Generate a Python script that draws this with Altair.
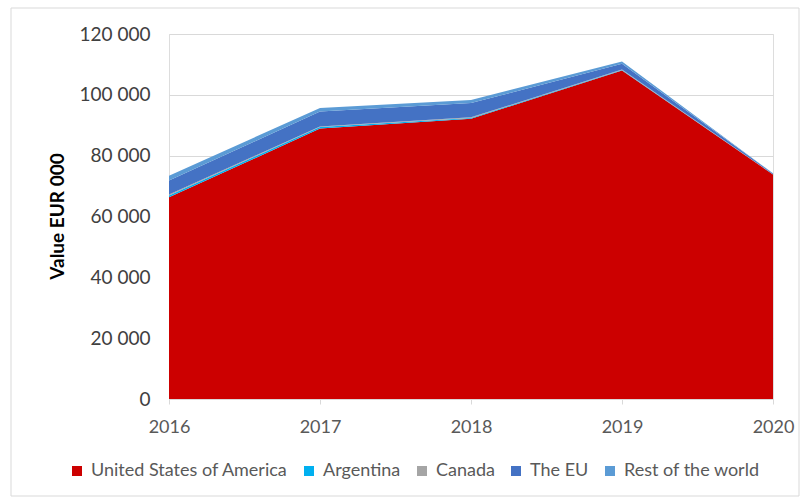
import altair as alt
import pandas as pd

years = [2016, 2017, 2018, 2019, 2020]
series = ["United States of America", "Argentina", "Canada", "The EU", "Rest of the world"]
usa = [66300, 88900, 92100, 108000, 73800]
argentina = [600, 500, 300, 200, 50]
canada = [300, 200, 200, 100, 50]
the_eu = [4600, 4900, 4700, 1900, 200]
rest = [1600, 1200, 1000, 800, 100]
colors = ["#CC0000", "#00B0F0", "#A5A5A5", "#4472C4", "#5B9BD5"]
y_ticks = [0, 20000, 40000, 60000, 80000, 100000, 120000]

values = [usa, argentina, canada, the_eu, rest]
rows = []
for i, (name, vals) in enumerate(zip(series, values)):
    for yr, v in zip(years, vals):
        rows.append({"Year": yr, "Series": name, "Value": v, "order": i})
df = pd.DataFrame(rows)

FONT = "Lato"

area = alt.Chart(df).mark_area(opacity=1, interpolate="linear").encode(
    x=alt.X("Year:Q",
            scale=alt.Scale(domain=[2016, 2020], nice=False, zero=False),
            axis=alt.Axis(values=years, format="d", title=None, grid=False,
                          domain=True, domainColor="#D9D9D9", ticks=True,
                          tickColor="#D9D9D9", tickSize=5, labelFontSize=18,
                          labelColor="#595959", labelPadding=14, labelFont=FONT,
                          labelFlush=False)),
    y=alt.Y("Value:Q", stack="zero",
            scale=alt.Scale(domain=[0, 120000], nice=False),
            axis=alt.Axis(values=y_ticks, title="Value EUR 000",
                          labelExpr="replace(format(datum.value, ','), ',', ' ')",
                          grid=True, gridColor="#D9D9D9", domain=False, ticks=False,
                          labelFontSize=19, labelColor="#404040", labelPadding=19,
                          labelFont=FONT,
                          titleFontSize=19, titleFont=FONT, titleFontWeight="bold",
                          titleColor="#000000", titleAngle=270, titleX=-112,
                          titleY=182, titleAlign="center", titleBaseline="middle")),
    color=alt.Color("Series:N",
                    scale=alt.Scale(domain=series, range=colors),
                    legend=alt.Legend(title=None, orient="none", direction="horizontal",
                                      legendX=-101, legendY=428, columns=5,
                                      symbolType="square", symbolSize=100,
                                      symbolStrokeWidth=0, labelFontSize=18,
                                      labelColor="#595959", labelFont=FONT,
                                      labelLimit=400,
                                      columnPadding=12, symbolOffset=0,
                                      labelOffset=5)),
    order=alt.Order("order:Q", sort="ascending"),
)

border = alt.Chart(pd.DataFrame({"a": [0]})).mark_rect(
    fill=None, stroke="#D9D9D9", strokeWidth=1
).encode(x=alt.value(-158), x2=alt.value(630), y=alt.value(-26), y2=alt.value(462))

chart = alt.layer(border, area).properties(
    width=604, height=365,
    autosize=alt.AutoSizeParams(type="none"),
    padding={"left": 169, "top": 34, "right": 33, "bottom": 102},
).configure_view(stroke=None).configure(background="white")

chart.save("out.html", embed_options={"renderer": "svg", "actions": False})
